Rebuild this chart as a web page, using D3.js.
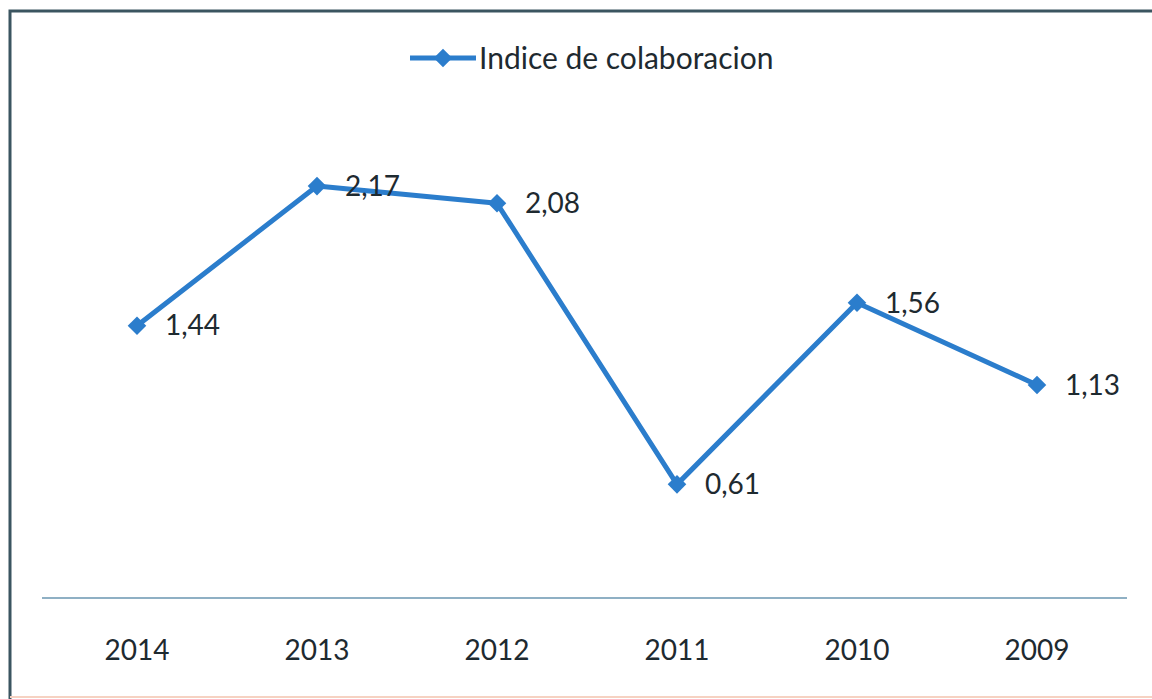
<!DOCTYPE html>
<html>
<head>
<meta charset="utf-8">
<script src="https://cdn.jsdelivr.net/npm/d3@7"></script>
<style>
  body { margin: 0; background: #fff; }
  svg { display: block; font-family: Lato, "Open Sans", sans-serif; }
</style>
</head>
<body>
<div id="chart"></div>
<script>
// data
const years = ["2014", "2013", "2012", "2011", "2010", "2009"];
const values = [1.44, 2.17, 2.08, 0.61, 1.56, 1.13];
const seriesName = "Indice de colaboracion";

const width = 1152, height = 699;
const blue = "#2b7dcc";
const textColor = "#1e2a30";

const svg = d3.select("#chart").append("svg")
    .attr("width", width)
    .attr("height", height);

// frame (top and left edges visible in the crop)
svg.append("path")
    .attr("d", `M10,${height} V11 H${width}`)
    .attr("fill", "none")
    .attr("stroke", "#3b5560")
    .attr("stroke-width", 3);
svg.append("line")
    .attr("x1", 10).attr("x2", width)
    .attr("y1", 697).attr("y2", 697)
    .attr("stroke", "#f6d2c2")
    .attr("stroke-width", 2);

const x = d3.scaleBand()
    .domain(years)
    .range([47, 1127]);

const y = d3.scaleLinear()
    .domain([0, 2.5])
    .range([601, 123]);

// x axis
const axisY = 598;
const xAxis = svg.append("g")
    .attr("transform", `translate(0,${axisY})`)
    .call(d3.axisBottom(x).tickSize(0).tickPadding(42));
xAxis.select(".domain")
    .attr("d", "M42,0H1127")
    .attr("stroke", "#8fb0c4")
    .attr("stroke-width", 2);
xAxis.selectAll("text")
    .attr("font-size", 28)
    .attr("fill", textColor)
    .attr("font-family", "Lato, sans-serif");

const cx = d => x(d) + x.bandwidth() / 2;
const pts = years.map((yr, i) => ({ year: yr, value: values[i] }));

const line = d3.line()
    .x(d => cx(d.year))
    .y(d => y(d.value));

svg.append("path")
    .datum(pts)
    .attr("d", line)
    .attr("fill", "none")
    .attr("stroke", blue)
    .attr("stroke-width", 5)
    .attr("stroke-linejoin", "round");

const diamond = d3.symbol().type(d3.symbolDiamond2).size(220);

svg.selectAll(".marker")
    .data(pts)
  .enter().append("path")
    .attr("class", "marker")
    .attr("transform", d => `translate(${cx(d.year)},${y(d.value)})`)
    .attr("d", diamond)
    .attr("fill", blue);

svg.selectAll(".label")
    .data(pts)
  .enter().append("text")
    .attr("class", "label")
    .attr("x", d => cx(d.year) + 28)
    .attr("y", d => y(d.value))
    .attr("dy", "0.35em")
    .attr("font-size", 28)
    .attr("fill", textColor)
    .text(d => d3.format(".2f")(d.value).replace(".", ","));

// legend
const legend = svg.append("g").attr("transform", "translate(410,58)");
legend.append("line")
    .attr("x1", 0).attr("x2", 66)
    .attr("stroke", blue)
    .attr("stroke-width", 5);
legend.append("path")
    .attr("transform", "translate(33,0)")
    .attr("d", diamond)
    .attr("fill", blue);
legend.append("text")
    .attr("x", 69)
    .attr("dy", "0.35em")
    .attr("font-size", 30)
    .attr("fill", textColor)
    .text(seriesName);
</script>
</body>
</html>
